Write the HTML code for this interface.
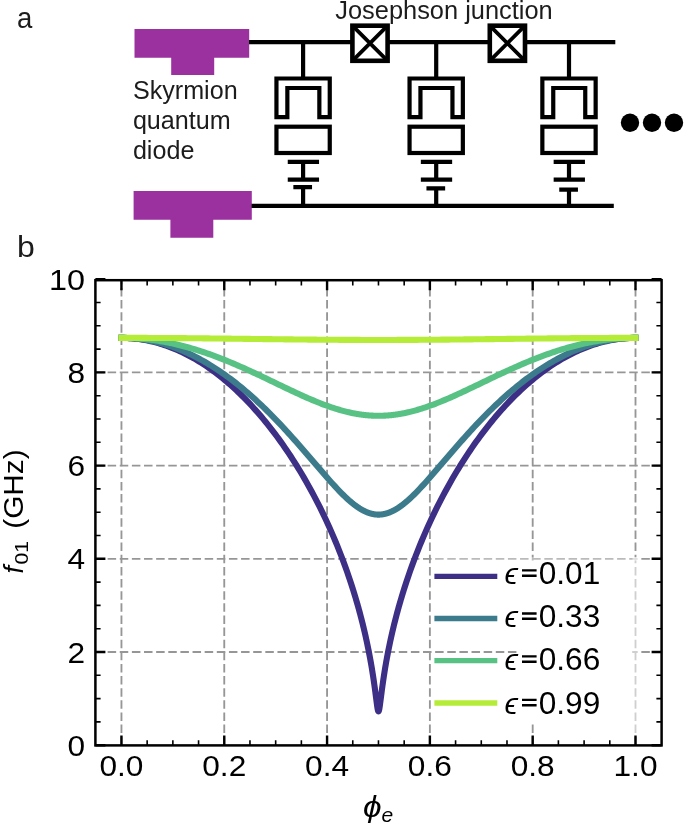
<!DOCTYPE html>
<html><head><meta charset="utf-8"><title>figure</title>
<style>html,body{margin:0;padding:0;background:#fff}svg{display:block;will-change:transform}</style></head>
<body>
<svg width="685" height="826" viewBox="0 0 685 826">
<rect width="685" height="826" fill="#fff"/>
<path d="M134.5 29H249.2V57.7H214.2V75H171.2V57.7H134.5Z" fill="#9b309f"/>
<path d="M133.6 191H251.8V219.8H213.3V237.8H170.4V219.8H133.6Z" fill="#9b309f"/>
<g stroke="#000" stroke-width="4.2" fill="none" stroke-linecap="butt" stroke-linejoin="miter">
<path d="M249 42.1H352 M388 42.1H489.5 M525.5 42.1H615.3"/>
<path d="M251.5 205.8H613.8"/>
<path d="M303.1 42.1V78.5"/>
<path d="M276.45 78.5H329.75V117.2H319.35V88H287.35V117.2H276.45Z"/>
<rect x="276.45" y="126.7" width="53.3" height="26.3"/>
<path d="M287.75 161.9H319.05 M303.1 161.9V179.6 M287.75 179.6H319.05 M293.35 187.1H312.05 M303.1 187.1V205.8"/>
<path d="M436.2 42.1V78.5"/>
<path d="M409.54999999999995 78.5H462.84999999999997V117.2H452.45V88H420.45V117.2H409.54999999999995Z"/>
<rect x="409.54999999999995" y="126.7" width="53.3" height="26.3"/>
<path d="M420.84999999999997 161.9H452.15 M436.2 161.9V179.6 M420.84999999999997 179.6H452.15 M426.45 188.4H445.15 M436.2 188.4V205.8"/>
<path d="M569.0 42.1V78.5"/>
<path d="M542.3499999999999 78.5H595.65V117.2H585.25V88H553.25V117.2H542.3499999999999Z"/>
<rect x="542.3499999999999" y="126.7" width="53.3" height="26.3"/>
<path d="M553.65 161.9H584.95 M569.0 161.9V179.6 M553.65 179.6H584.95 M559.25 189.7H577.95 M569.0 189.7V205.8"/>
<rect x="352.4" y="25.7" width="35.2" height="35.1" stroke-width="4.6"/>
<path d="M352.4 25.7L387.6 60.8 M387.6 25.7L352.4 60.8" stroke-width="3.8"/>
<rect x="489.79999999999995" y="25.7" width="35.2" height="35.1" stroke-width="4.6"/>
<path d="M489.79999999999995 25.7L525.0 60.8 M525.0 25.7L489.79999999999995 60.8" stroke-width="3.8"/>
</g>
<circle cx="630" cy="122.8" r="9.2" fill="#000"/>
<circle cx="652" cy="122.8" r="9.2" fill="#000"/>
<circle cx="674" cy="122.8" r="9.2" fill="#000"/>
<g font-family="Liberation Sans, sans-serif" fill="#1c1c1c" font-size="25.15">
<text x="17.1" y="28" font-size="29.8" textLength="15.3" lengthAdjust="spacingAndGlyphs">a</text>
<text x="17.0" y="257.4" font-size="29.8" textLength="17.8" lengthAdjust="spacingAndGlyphs">b</text>
<text x="335.3" y="19.2" font-size="25.4">Josephson junction</text>
<text x="132.9" y="99.1">Skyrmion</text>
<text x="132.9" y="129.3">quantum</text>
<text x="132.9" y="159.4">diode</text>
</g>
<g stroke="#969696" stroke-width="1.85" stroke-dasharray="8.5 3.63" fill="none">
<path d="M121.45 745.2V280.2"/>
<path d="M224.26 745.2V280.2"/>
<path d="M327.07 745.2V280.2"/>
<path d="M429.88 745.2V280.2"/>
<path d="M532.69 745.2V280.2"/>
<path d="M635.50 745.2V280.2"/>
<path d="M95.5 652.00H661.6"/>
<path d="M95.5 558.80H661.6"/>
<path d="M95.5 465.60H661.6"/>
<path d="M95.5 372.40H661.6"/>
</g>
<polyline points="121.45,337.87 123.39,337.88 125.34,337.93 127.28,338.00 129.23,338.10 131.17,338.24 133.11,338.40 135.06,338.59 137.00,338.81 138.94,339.06 140.89,339.34 142.83,339.64 144.78,339.98 146.72,340.35 148.66,340.74 150.61,341.17 152.55,341.63 154.50,342.11 156.44,342.63 158.38,343.17 160.33,343.74 162.27,344.35 164.22,344.98 166.16,345.65 168.10,346.34 170.05,347.06 171.99,347.82 173.93,348.60 175.88,349.41 177.82,350.26 179.77,351.13 181.71,352.03 183.65,352.97 185.60,353.93 187.54,354.93 189.49,355.96 191.43,357.01 193.37,358.10 195.32,359.22 197.26,360.37 199.21,361.55 201.15,362.76 203.09,364.01 205.04,365.28 206.98,366.59 208.92,367.93 210.87,369.30 212.81,370.70 214.76,372.14 216.70,373.61 218.64,375.11 220.59,376.64 222.53,378.21 224.48,379.81 226.42,381.44 228.36,383.10 230.31,384.80 232.25,386.54 234.20,388.31 236.14,390.11 238.08,391.94 240.03,393.82 241.97,395.72 243.91,397.67 245.86,399.65 247.80,401.66 249.75,403.71 251.69,405.80 253.63,407.93 255.58,410.09 257.52,412.29 259.47,414.53 261.41,416.81 263.35,419.13 265.30,421.49 267.24,423.89 269.19,426.33 271.13,428.81 273.07,431.33 275.02,433.90 276.96,436.51 278.90,439.17 280.85,441.86 282.79,444.61 284.74,447.40 286.68,450.24 288.62,453.13 290.57,456.06 292.51,459.05 294.46,462.09 296.40,465.18 298.34,468.33 300.29,471.53 302.23,474.79 304.18,478.10 306.12,481.48 308.06,484.92 310.01,488.42 311.95,491.99 313.89,495.63 315.84,499.33 317.78,503.11 319.73,506.97 321.67,510.90 323.61,514.92 325.56,519.02 327.50,523.21 329.45,527.50 331.39,531.88 333.33,536.37 335.28,540.97 337.22,545.69 339.17,550.53 341.11,555.50 343.05,560.62 345.00,565.89 346.94,571.32 348.88,576.94 350.83,582.75 352.77,588.77 353.03,589.59 353.29,590.41 353.55,591.24 353.81,592.07 354.06,592.91 354.32,593.75 354.58,594.59 354.84,595.44 355.10,596.30 355.36,597.16 355.61,598.02 355.87,598.89 356.13,599.76 356.39,600.64 356.65,601.53 356.91,602.42 357.16,603.31 357.42,604.21 357.68,605.12 357.94,606.03 358.20,606.95 358.46,607.87 358.71,608.80 358.97,609.74 359.23,610.68 359.49,611.63 359.75,612.58 360.01,613.54 360.26,614.51 360.52,615.49 360.78,616.47 361.04,617.46 361.30,618.46 361.56,619.46 361.81,620.47 362.07,621.49 362.33,622.52 362.59,623.55 362.85,624.60 363.11,625.65 363.36,626.71 363.62,627.78 363.88,628.86 364.14,629.95 364.40,631.05 364.66,632.15 364.91,633.27 365.17,634.40 365.43,635.54 365.69,636.69 365.95,637.85 366.20,639.02 366.46,640.21 366.72,641.40 366.98,642.61 367.24,643.83 367.50,645.07 367.75,646.32 368.01,647.58 368.27,648.86 368.53,650.15 368.79,651.46 369.05,652.79 369.30,654.13 369.56,655.49 369.82,656.87 370.08,658.26 370.34,659.68 370.60,661.11 370.85,662.57 371.11,664.05 371.37,665.55 371.63,667.07 371.89,668.62 372.15,670.19 372.40,671.79 372.66,673.41 372.92,675.07 373.18,676.75 373.44,678.47 373.70,680.21 373.95,681.99 374.21,683.81 374.47,685.65 374.73,687.53 374.99,689.44 375.25,691.39 375.50,693.37 375.76,695.37 376.02,697.38 376.28,699.41 376.54,701.42 376.80,703.40 377.05,705.31 377.31,707.09 377.57,708.68 377.83,710.00 378.09,710.95 378.35,711.45 378.60,711.45 378.86,710.95 379.12,710.00 379.38,708.68 379.64,707.09 379.90,705.31 380.15,703.40 380.41,701.42 380.67,699.41 380.93,697.38 381.19,695.37 381.45,693.37 381.70,691.39 381.96,689.44 382.22,687.53 382.48,685.65 382.74,683.81 383.00,681.99 383.25,680.21 383.51,678.47 383.77,676.75 384.03,675.07 384.29,673.41 384.55,671.79 384.80,670.19 385.06,668.62 385.32,667.07 385.58,665.55 385.84,664.05 386.10,662.57 386.35,661.11 386.61,659.68 386.87,658.26 387.13,656.87 387.39,655.49 387.65,654.13 387.90,652.79 388.16,651.46 388.42,650.15 388.68,648.86 388.94,647.58 389.20,646.32 389.45,645.07 389.71,643.83 389.97,642.61 390.23,641.40 390.49,640.21 390.75,639.02 391.00,637.85 391.26,636.69 391.52,635.54 391.78,634.40 392.04,633.27 392.29,632.15 392.55,631.05 392.81,629.95 393.07,628.86 393.33,627.78 393.59,626.71 393.84,625.65 394.10,624.60 394.36,623.55 394.62,622.52 394.88,621.49 395.14,620.47 395.39,619.46 395.65,618.46 395.91,617.46 396.17,616.47 396.43,615.49 396.69,614.51 396.94,613.54 397.20,612.58 397.46,611.63 397.72,610.68 397.98,609.74 398.24,608.80 398.49,607.87 398.75,606.95 399.01,606.03 399.27,605.12 399.53,604.21 399.79,603.31 400.04,602.42 400.30,601.53 400.56,600.64 400.82,599.76 401.08,598.89 401.34,598.02 401.59,597.16 401.85,596.30 402.11,595.44 402.37,594.59 402.63,593.75 402.89,592.91 403.14,592.07 403.40,591.24 403.66,590.41 403.92,589.59 404.18,588.77 406.12,582.75 408.07,576.94 410.01,571.32 411.95,565.89 413.90,560.62 415.84,555.50 417.78,550.53 419.73,545.69 421.67,540.97 423.62,536.37 425.56,531.88 427.50,527.50 429.45,523.21 431.39,519.02 433.34,514.92 435.28,510.90 437.22,506.97 439.17,503.11 441.11,499.33 443.06,495.63 445.00,491.99 446.94,488.42 448.89,484.92 450.83,481.48 452.77,478.10 454.72,474.79 456.66,471.53 458.61,468.33 460.55,465.18 462.49,462.09 464.44,459.05 466.38,456.06 468.33,453.13 470.27,450.24 472.21,447.40 474.16,444.61 476.10,441.86 478.05,439.17 479.99,436.51 481.93,433.90 483.88,431.33 485.82,428.81 487.76,426.33 489.71,423.89 491.65,421.49 493.60,419.13 495.54,416.81 497.48,414.53 499.43,412.29 501.37,410.09 503.32,407.93 505.26,405.80 507.20,403.71 509.15,401.66 511.09,399.65 513.04,397.67 514.98,395.72 516.92,393.82 518.87,391.94 520.81,390.11 522.75,388.31 524.70,386.54 526.64,384.80 528.59,383.10 530.53,381.44 532.47,379.81 534.42,378.21 536.36,376.64 538.31,375.11 540.25,373.61 542.19,372.14 544.14,370.70 546.08,369.30 548.03,367.93 549.97,366.59 551.91,365.28 553.86,364.01 555.80,362.76 557.74,361.55 559.69,360.37 561.63,359.22 563.58,358.10 565.52,357.01 567.46,355.96 569.41,354.93 571.35,353.93 573.30,352.97 575.24,352.03 577.18,351.13 579.13,350.26 581.07,349.41 583.02,348.60 584.96,347.82 586.90,347.06 588.85,346.34 590.79,345.65 592.73,344.98 594.68,344.35 596.62,343.74 598.57,343.17 600.51,342.63 602.45,342.11 604.40,341.63 606.34,341.17 608.29,340.74 610.23,340.35 612.17,339.98 614.12,339.64 616.06,339.34 618.01,339.06 619.95,338.81 621.89,338.59 623.84,338.40 625.78,338.24 627.72,338.10 629.67,338.00 631.61,337.93 633.56,337.88 635.50,337.87" fill="none" stroke="#3d2f85" stroke-width="6.1" stroke-linejoin="round" stroke-linecap="square"/>
<polyline points="121.45,337.87 123.39,337.88 125.34,337.92 127.28,337.99 129.23,338.08 131.17,338.20 133.11,338.34 135.06,338.51 137.00,338.71 138.94,338.93 140.89,339.18 142.83,339.45 144.78,339.75 146.72,340.08 148.66,340.43 150.61,340.81 152.55,341.21 154.50,341.64 156.44,342.10 158.38,342.58 160.33,343.09 162.27,343.63 164.22,344.19 166.16,344.78 168.10,345.39 170.05,346.03 171.99,346.70 173.93,347.39 175.88,348.11 177.82,348.85 179.77,349.62 181.71,350.42 183.65,351.24 185.60,352.09 187.54,352.97 189.49,353.87 191.43,354.79 193.37,355.75 195.32,356.73 197.26,357.73 199.21,358.76 201.15,359.82 203.09,360.90 205.04,362.01 206.98,363.15 208.92,364.31 210.87,365.49 212.81,366.71 214.76,367.95 216.70,369.21 218.64,370.50 220.59,371.82 222.53,373.16 224.48,374.53 226.42,375.92 228.36,377.34 230.31,378.78 232.25,380.25 234.20,381.75 236.14,383.27 238.08,384.82 240.03,386.39 241.97,387.98 243.91,389.61 245.86,391.25 247.80,392.92 249.75,394.62 251.69,396.34 253.63,398.08 255.58,399.85 257.52,401.65 259.47,403.46 261.41,405.30 263.35,407.17 265.30,409.05 267.24,410.96 269.19,412.90 271.13,414.85 273.07,416.83 275.02,418.82 276.96,420.84 278.90,422.88 280.85,424.94 282.79,427.02 284.74,429.12 286.68,431.24 288.62,433.37 290.57,435.52 292.51,437.69 294.46,439.87 296.40,442.07 298.34,444.28 300.29,446.51 302.23,448.74 304.18,450.99 306.12,453.24 308.06,455.50 310.01,457.77 311.95,460.04 313.89,462.31 315.84,464.58 317.78,466.85 319.73,469.11 321.67,471.36 323.61,473.61 325.56,475.84 327.50,478.06 329.45,480.25 331.39,482.42 333.33,484.57 335.28,486.68 337.22,488.76 339.17,490.80 341.11,492.79 343.05,494.73 345.00,496.61 346.94,498.43 348.88,500.19 350.83,501.87 352.77,503.48 353.03,503.68 353.29,503.89 353.55,504.09 353.81,504.30 354.06,504.50 354.32,504.70 354.58,504.89 354.84,505.09 355.10,505.28 355.36,505.48 355.61,505.67 355.87,505.86 356.13,506.04 356.39,506.23 356.65,506.42 356.91,506.60 357.16,506.78 357.42,506.96 357.68,507.14 357.94,507.31 358.20,507.49 358.46,507.66 358.71,507.83 358.97,508.00 359.23,508.16 359.49,508.33 359.75,508.49 360.01,508.65 360.26,508.81 360.52,508.97 360.78,509.12 361.04,509.28 361.30,509.43 361.56,509.58 361.81,509.73 362.07,509.87 362.33,510.02 362.59,510.16 362.85,510.30 363.11,510.43 363.36,510.57 363.62,510.70 363.88,510.84 364.14,510.96 364.40,511.09 364.66,511.22 364.91,511.34 365.17,511.46 365.43,511.58 365.69,511.70 365.95,511.81 366.20,511.92 366.46,512.03 366.72,512.14 366.98,512.25 367.24,512.35 367.50,512.45 367.75,512.55 368.01,512.65 368.27,512.74 368.53,512.84 368.79,512.93 369.05,513.01 369.30,513.10 369.56,513.18 369.82,513.26 370.08,513.34 370.34,513.42 370.60,513.49 370.85,513.57 371.11,513.64 371.37,513.70 371.63,513.77 371.89,513.83 372.15,513.89 372.40,513.95 372.66,514.00 372.92,514.06 373.18,514.11 373.44,514.16 373.70,514.20 373.95,514.25 374.21,514.29 374.47,514.33 374.73,514.36 374.99,514.40 375.25,514.43 375.50,514.46 375.76,514.48 376.02,514.51 376.28,514.53 376.54,514.55 376.80,514.57 377.05,514.58 377.31,514.59 377.57,514.60 377.83,514.61 378.09,514.61 378.35,514.62 378.60,514.62 378.86,514.61 379.12,514.61 379.38,514.60 379.64,514.59 379.90,514.58 380.15,514.57 380.41,514.55 380.67,514.53 380.93,514.51 381.19,514.48 381.45,514.46 381.70,514.43 381.96,514.40 382.22,514.36 382.48,514.33 382.74,514.29 383.00,514.25 383.25,514.20 383.51,514.16 383.77,514.11 384.03,514.06 384.29,514.00 384.55,513.95 384.80,513.89 385.06,513.83 385.32,513.77 385.58,513.70 385.84,513.64 386.10,513.57 386.35,513.49 386.61,513.42 386.87,513.34 387.13,513.26 387.39,513.18 387.65,513.10 387.90,513.01 388.16,512.93 388.42,512.84 388.68,512.74 388.94,512.65 389.20,512.55 389.45,512.45 389.71,512.35 389.97,512.25 390.23,512.14 390.49,512.03 390.75,511.92 391.00,511.81 391.26,511.70 391.52,511.58 391.78,511.46 392.04,511.34 392.29,511.22 392.55,511.09 392.81,510.96 393.07,510.84 393.33,510.70 393.59,510.57 393.84,510.43 394.10,510.30 394.36,510.16 394.62,510.02 394.88,509.87 395.14,509.73 395.39,509.58 395.65,509.43 395.91,509.28 396.17,509.12 396.43,508.97 396.69,508.81 396.94,508.65 397.20,508.49 397.46,508.33 397.72,508.16 397.98,508.00 398.24,507.83 398.49,507.66 398.75,507.49 399.01,507.31 399.27,507.14 399.53,506.96 399.79,506.78 400.04,506.60 400.30,506.42 400.56,506.23 400.82,506.04 401.08,505.86 401.34,505.67 401.59,505.48 401.85,505.28 402.11,505.09 402.37,504.89 402.63,504.70 402.89,504.50 403.14,504.30 403.40,504.09 403.66,503.89 403.92,503.68 404.18,503.48 406.12,501.87 408.07,500.19 410.01,498.43 411.95,496.61 413.90,494.73 415.84,492.79 417.78,490.80 419.73,488.76 421.67,486.68 423.62,484.57 425.56,482.42 427.50,480.25 429.45,478.06 431.39,475.84 433.34,473.61 435.28,471.36 437.22,469.11 439.17,466.85 441.11,464.58 443.06,462.31 445.00,460.04 446.94,457.77 448.89,455.50 450.83,453.24 452.77,450.99 454.72,448.74 456.66,446.51 458.61,444.28 460.55,442.07 462.49,439.87 464.44,437.69 466.38,435.52 468.33,433.37 470.27,431.24 472.21,429.12 474.16,427.02 476.10,424.94 478.05,422.88 479.99,420.84 481.93,418.82 483.88,416.83 485.82,414.85 487.76,412.90 489.71,410.96 491.65,409.05 493.60,407.17 495.54,405.30 497.48,403.46 499.43,401.65 501.37,399.85 503.32,398.08 505.26,396.34 507.20,394.62 509.15,392.92 511.09,391.25 513.04,389.61 514.98,387.98 516.92,386.39 518.87,384.82 520.81,383.27 522.75,381.75 524.70,380.25 526.64,378.78 528.59,377.34 530.53,375.92 532.47,374.53 534.42,373.16 536.36,371.82 538.31,370.50 540.25,369.21 542.19,367.95 544.14,366.71 546.08,365.49 548.03,364.31 549.97,363.15 551.91,362.01 553.86,360.90 555.80,359.82 557.74,358.76 559.69,357.73 561.63,356.73 563.58,355.75 565.52,354.79 567.46,353.87 569.41,352.97 571.35,352.09 573.30,351.24 575.24,350.42 577.18,349.62 579.13,348.85 581.07,348.11 583.02,347.39 584.96,346.70 586.90,346.03 588.85,345.39 590.79,344.78 592.73,344.19 594.68,343.63 596.62,343.09 598.57,342.58 600.51,342.10 602.45,341.64 604.40,341.21 606.34,340.81 608.29,340.43 610.23,340.08 612.17,339.75 614.12,339.45 616.06,339.18 618.01,338.93 619.95,338.71 621.89,338.51 623.84,338.34 625.78,338.20 627.72,338.08 629.67,337.99 631.61,337.92 633.56,337.88 635.50,337.87" fill="none" stroke="#3b7b8b" stroke-width="6.1" stroke-linejoin="round" stroke-linecap="square"/>
<polyline points="121.45,337.87 123.39,337.88 125.34,337.90 127.28,337.94 129.23,338.00 131.17,338.08 133.11,338.17 135.06,338.27 137.00,338.40 138.94,338.54 140.89,338.70 142.83,338.87 144.78,339.06 146.72,339.26 148.66,339.49 150.61,339.72 152.55,339.98 154.50,340.25 156.44,340.53 158.38,340.84 160.33,341.15 162.27,341.49 164.22,341.84 166.16,342.20 168.10,342.59 170.05,342.98 171.99,343.39 173.93,343.82 175.88,344.26 177.82,344.72 179.77,345.20 181.71,345.68 183.65,346.19 185.60,346.70 187.54,347.23 189.49,347.78 191.43,348.34 193.37,348.91 195.32,349.50 197.26,350.11 199.21,350.72 201.15,351.35 203.09,351.99 205.04,352.65 206.98,353.32 208.92,354.00 210.87,354.69 212.81,355.40 214.76,356.12 216.70,356.85 218.64,357.59 220.59,358.34 222.53,359.10 224.48,359.88 226.42,360.66 228.36,361.46 230.31,362.27 232.25,363.08 234.20,363.91 236.14,364.74 238.08,365.59 240.03,366.44 241.97,367.30 243.91,368.16 245.86,369.04 247.80,369.92 249.75,370.81 251.69,371.71 253.63,372.61 255.58,373.51 257.52,374.42 259.47,375.34 261.41,376.26 263.35,377.19 265.30,378.11 267.24,379.04 269.19,379.97 271.13,380.91 273.07,381.84 275.02,382.78 276.96,383.71 278.90,384.65 280.85,385.58 282.79,386.52 284.74,387.45 286.68,388.37 288.62,389.30 290.57,390.22 292.51,391.13 294.46,392.04 296.40,392.94 298.34,393.84 300.29,394.73 302.23,395.61 304.18,396.48 306.12,397.34 308.06,398.19 310.01,399.03 311.95,399.86 313.89,400.67 315.84,401.47 317.78,402.26 319.73,403.03 321.67,403.79 323.61,404.53 325.56,405.25 327.50,405.96 329.45,406.64 331.39,407.31 333.33,407.95 335.28,408.58 337.22,409.18 339.17,409.76 341.11,410.32 343.05,410.85 345.00,411.36 346.94,411.85 348.88,412.31 350.83,412.74 352.77,413.14 353.03,413.19 353.29,413.25 353.55,413.30 353.81,413.35 354.06,413.40 354.32,413.45 354.58,413.50 354.84,413.54 355.10,413.59 355.36,413.64 355.61,413.69 355.87,413.73 356.13,413.78 356.39,413.82 356.65,413.87 356.91,413.91 357.16,413.96 357.42,414.00 357.68,414.04 357.94,414.09 358.20,414.13 358.46,414.17 358.71,414.21 358.97,414.25 359.23,414.29 359.49,414.33 359.75,414.37 360.01,414.41 360.26,414.45 360.52,414.48 360.78,414.52 361.04,414.56 361.30,414.59 361.56,414.63 361.81,414.66 362.07,414.70 362.33,414.73 362.59,414.76 362.85,414.80 363.11,414.83 363.36,414.86 363.62,414.89 363.88,414.92 364.14,414.95 364.40,414.98 364.66,415.01 364.91,415.04 365.17,415.07 365.43,415.10 365.69,415.12 365.95,415.15 366.20,415.17 366.46,415.20 366.72,415.23 366.98,415.25 367.24,415.27 367.50,415.30 367.75,415.32 368.01,415.34 368.27,415.36 368.53,415.38 368.79,415.40 369.05,415.42 369.30,415.44 369.56,415.46 369.82,415.48 370.08,415.50 370.34,415.52 370.60,415.53 370.85,415.55 371.11,415.57 371.37,415.58 371.63,415.60 371.89,415.61 372.15,415.62 372.40,415.64 372.66,415.65 372.92,415.66 373.18,415.67 373.44,415.68 373.70,415.69 373.95,415.70 374.21,415.71 374.47,415.72 374.73,415.73 374.99,415.74 375.25,415.74 375.50,415.75 375.76,415.76 376.02,415.76 376.28,415.77 376.54,415.77 376.80,415.78 377.05,415.78 377.31,415.78 377.57,415.78 377.83,415.78 378.09,415.79 378.35,415.79 378.60,415.79 378.86,415.79 379.12,415.78 379.38,415.78 379.64,415.78 379.90,415.78 380.15,415.78 380.41,415.77 380.67,415.77 380.93,415.76 381.19,415.76 381.45,415.75 381.70,415.74 381.96,415.74 382.22,415.73 382.48,415.72 382.74,415.71 383.00,415.70 383.25,415.69 383.51,415.68 383.77,415.67 384.03,415.66 384.29,415.65 384.55,415.64 384.80,415.62 385.06,415.61 385.32,415.60 385.58,415.58 385.84,415.57 386.10,415.55 386.35,415.53 386.61,415.52 386.87,415.50 387.13,415.48 387.39,415.46 387.65,415.44 387.90,415.42 388.16,415.40 388.42,415.38 388.68,415.36 388.94,415.34 389.20,415.32 389.45,415.30 389.71,415.27 389.97,415.25 390.23,415.23 390.49,415.20 390.75,415.17 391.00,415.15 391.26,415.12 391.52,415.10 391.78,415.07 392.04,415.04 392.29,415.01 392.55,414.98 392.81,414.95 393.07,414.92 393.33,414.89 393.59,414.86 393.84,414.83 394.10,414.80 394.36,414.76 394.62,414.73 394.88,414.70 395.14,414.66 395.39,414.63 395.65,414.59 395.91,414.56 396.17,414.52 396.43,414.48 396.69,414.45 396.94,414.41 397.20,414.37 397.46,414.33 397.72,414.29 397.98,414.25 398.24,414.21 398.49,414.17 398.75,414.13 399.01,414.09 399.27,414.04 399.53,414.00 399.79,413.96 400.04,413.91 400.30,413.87 400.56,413.82 400.82,413.78 401.08,413.73 401.34,413.69 401.59,413.64 401.85,413.59 402.11,413.54 402.37,413.50 402.63,413.45 402.89,413.40 403.14,413.35 403.40,413.30 403.66,413.25 403.92,413.19 404.18,413.14 406.12,412.74 408.07,412.31 410.01,411.85 411.95,411.36 413.90,410.85 415.84,410.32 417.78,409.76 419.73,409.18 421.67,408.58 423.62,407.95 425.56,407.31 427.50,406.64 429.45,405.96 431.39,405.25 433.34,404.53 435.28,403.79 437.22,403.03 439.17,402.26 441.11,401.47 443.06,400.67 445.00,399.86 446.94,399.03 448.89,398.19 450.83,397.34 452.77,396.48 454.72,395.61 456.66,394.73 458.61,393.84 460.55,392.94 462.49,392.04 464.44,391.13 466.38,390.22 468.33,389.30 470.27,388.37 472.21,387.45 474.16,386.52 476.10,385.58 478.05,384.65 479.99,383.71 481.93,382.78 483.88,381.84 485.82,380.91 487.76,379.97 489.71,379.04 491.65,378.11 493.60,377.19 495.54,376.26 497.48,375.34 499.43,374.42 501.37,373.51 503.32,372.61 505.26,371.71 507.20,370.81 509.15,369.92 511.09,369.04 513.04,368.16 514.98,367.30 516.92,366.44 518.87,365.59 520.81,364.74 522.75,363.91 524.70,363.08 526.64,362.27 528.59,361.46 530.53,360.66 532.47,359.88 534.42,359.10 536.36,358.34 538.31,357.59 540.25,356.85 542.19,356.12 544.14,355.40 546.08,354.69 548.03,354.00 549.97,353.32 551.91,352.65 553.86,351.99 555.80,351.35 557.74,350.72 559.69,350.11 561.63,349.50 563.58,348.91 565.52,348.34 567.46,347.78 569.41,347.23 571.35,346.70 573.30,346.19 575.24,345.68 577.18,345.20 579.13,344.72 581.07,344.26 583.02,343.82 584.96,343.39 586.90,342.98 588.85,342.59 590.79,342.20 592.73,341.84 594.68,341.49 596.62,341.15 598.57,340.84 600.51,340.53 602.45,340.25 604.40,339.98 606.34,339.72 608.29,339.49 610.23,339.26 612.17,339.06 614.12,338.87 616.06,338.70 618.01,338.54 619.95,338.40 621.89,338.27 623.84,338.17 625.78,338.08 627.72,338.00 629.67,337.94 631.61,337.90 633.56,337.88 635.50,337.87" fill="none" stroke="#57c283" stroke-width="6.1" stroke-linejoin="round" stroke-linecap="square"/>
<polyline points="121.45,337.87 123.39,337.87 125.34,337.87 127.28,337.87 129.23,337.87 131.17,337.88 133.11,337.88 135.06,337.88 137.00,337.89 138.94,337.89 140.89,337.90 142.83,337.90 144.78,337.91 146.72,337.92 148.66,337.93 150.61,337.93 152.55,337.94 154.50,337.95 156.44,337.96 158.38,337.97 160.33,337.98 162.27,338.00 164.22,338.01 166.16,338.02 168.10,338.03 170.05,338.05 171.99,338.06 173.93,338.07 175.88,338.09 177.82,338.11 179.77,338.12 181.71,338.14 183.65,338.15 185.60,338.17 187.54,338.19 189.49,338.21 191.43,338.23 193.37,338.24 195.32,338.26 197.26,338.28 199.21,338.30 201.15,338.32 203.09,338.34 205.04,338.36 206.98,338.39 208.92,338.41 210.87,338.43 212.81,338.45 214.76,338.47 216.70,338.50 218.64,338.52 220.59,338.54 222.53,338.56 224.48,338.59 226.42,338.61 228.36,338.64 230.31,338.66 232.25,338.68 234.20,338.71 236.14,338.73 238.08,338.76 240.03,338.78 241.97,338.80 243.91,338.83 245.86,338.85 247.80,338.88 249.75,338.90 251.69,338.93 253.63,338.95 255.58,338.98 257.52,339.00 259.47,339.03 261.41,339.05 263.35,339.08 265.30,339.10 267.24,339.12 269.19,339.15 271.13,339.17 273.07,339.20 275.02,339.22 276.96,339.24 278.90,339.27 280.85,339.29 282.79,339.31 284.74,339.34 286.68,339.36 288.62,339.38 290.57,339.40 292.51,339.42 294.46,339.45 296.40,339.47 298.34,339.49 300.29,339.51 302.23,339.53 304.18,339.55 306.12,339.57 308.06,339.59 310.01,339.61 311.95,339.62 313.89,339.64 315.84,339.66 317.78,339.68 319.73,339.69 321.67,339.71 323.61,339.72 325.56,339.74 327.50,339.75 329.45,339.77 331.39,339.78 333.33,339.80 335.28,339.81 337.22,339.82 339.17,339.83 341.11,339.84 343.05,339.85 345.00,339.86 346.94,339.87 348.88,339.88 350.83,339.89 352.77,339.90 353.03,339.90 353.29,339.90 353.55,339.90 353.81,339.90 354.06,339.91 354.32,339.91 354.58,339.91 354.84,339.91 355.10,339.91 355.36,339.91 355.61,339.91 355.87,339.91 356.13,339.91 356.39,339.91 356.65,339.91 356.91,339.92 357.16,339.92 357.42,339.92 357.68,339.92 357.94,339.92 358.20,339.92 358.46,339.92 358.71,339.92 358.97,339.92 359.23,339.92 359.49,339.92 359.75,339.92 360.01,339.92 360.26,339.93 360.52,339.93 360.78,339.93 361.04,339.93 361.30,339.93 361.56,339.93 361.81,339.93 362.07,339.93 362.33,339.93 362.59,339.93 362.85,339.93 363.11,339.93 363.36,339.93 363.62,339.93 363.88,339.93 364.14,339.94 364.40,339.94 364.66,339.94 364.91,339.94 365.17,339.94 365.43,339.94 365.69,339.94 365.95,339.94 366.20,339.94 366.46,339.94 366.72,339.94 366.98,339.94 367.24,339.94 367.50,339.94 367.75,339.94 368.01,339.94 368.27,339.94 368.53,339.94 368.79,339.94 369.05,339.94 369.30,339.94 369.56,339.95 369.82,339.95 370.08,339.95 370.34,339.95 370.60,339.95 370.85,339.95 371.11,339.95 371.37,339.95 371.63,339.95 371.89,339.95 372.15,339.95 372.40,339.95 372.66,339.95 372.92,339.95 373.18,339.95 373.44,339.95 373.70,339.95 373.95,339.95 374.21,339.95 374.47,339.95 374.73,339.95 374.99,339.95 375.25,339.95 375.50,339.95 375.76,339.95 376.02,339.95 376.28,339.95 376.54,339.95 376.80,339.95 377.05,339.95 377.31,339.95 377.57,339.95 377.83,339.95 378.09,339.95 378.35,339.95 378.60,339.95 378.86,339.95 379.12,339.95 379.38,339.95 379.64,339.95 379.90,339.95 380.15,339.95 380.41,339.95 380.67,339.95 380.93,339.95 381.19,339.95 381.45,339.95 381.70,339.95 381.96,339.95 382.22,339.95 382.48,339.95 382.74,339.95 383.00,339.95 383.25,339.95 383.51,339.95 383.77,339.95 384.03,339.95 384.29,339.95 384.55,339.95 384.80,339.95 385.06,339.95 385.32,339.95 385.58,339.95 385.84,339.95 386.10,339.95 386.35,339.95 386.61,339.95 386.87,339.95 387.13,339.95 387.39,339.95 387.65,339.94 387.90,339.94 388.16,339.94 388.42,339.94 388.68,339.94 388.94,339.94 389.20,339.94 389.45,339.94 389.71,339.94 389.97,339.94 390.23,339.94 390.49,339.94 390.75,339.94 391.00,339.94 391.26,339.94 391.52,339.94 391.78,339.94 392.04,339.94 392.29,339.94 392.55,339.94 392.81,339.94 393.07,339.93 393.33,339.93 393.59,339.93 393.84,339.93 394.10,339.93 394.36,339.93 394.62,339.93 394.88,339.93 395.14,339.93 395.39,339.93 395.65,339.93 395.91,339.93 396.17,339.93 396.43,339.93 396.69,339.93 396.94,339.92 397.20,339.92 397.46,339.92 397.72,339.92 397.98,339.92 398.24,339.92 398.49,339.92 398.75,339.92 399.01,339.92 399.27,339.92 399.53,339.92 399.79,339.92 400.04,339.92 400.30,339.91 400.56,339.91 400.82,339.91 401.08,339.91 401.34,339.91 401.59,339.91 401.85,339.91 402.11,339.91 402.37,339.91 402.63,339.91 402.89,339.91 403.14,339.90 403.40,339.90 403.66,339.90 403.92,339.90 404.18,339.90 406.12,339.89 408.07,339.88 410.01,339.87 411.95,339.86 413.90,339.85 415.84,339.84 417.78,339.83 419.73,339.82 421.67,339.81 423.62,339.80 425.56,339.78 427.50,339.77 429.45,339.75 431.39,339.74 433.34,339.72 435.28,339.71 437.22,339.69 439.17,339.68 441.11,339.66 443.06,339.64 445.00,339.62 446.94,339.61 448.89,339.59 450.83,339.57 452.77,339.55 454.72,339.53 456.66,339.51 458.61,339.49 460.55,339.47 462.49,339.45 464.44,339.42 466.38,339.40 468.33,339.38 470.27,339.36 472.21,339.34 474.16,339.31 476.10,339.29 478.05,339.27 479.99,339.24 481.93,339.22 483.88,339.20 485.82,339.17 487.76,339.15 489.71,339.12 491.65,339.10 493.60,339.08 495.54,339.05 497.48,339.03 499.43,339.00 501.37,338.98 503.32,338.95 505.26,338.93 507.20,338.90 509.15,338.88 511.09,338.85 513.04,338.83 514.98,338.80 516.92,338.78 518.87,338.76 520.81,338.73 522.75,338.71 524.70,338.68 526.64,338.66 528.59,338.64 530.53,338.61 532.47,338.59 534.42,338.56 536.36,338.54 538.31,338.52 540.25,338.50 542.19,338.47 544.14,338.45 546.08,338.43 548.03,338.41 549.97,338.39 551.91,338.36 553.86,338.34 555.80,338.32 557.74,338.30 559.69,338.28 561.63,338.26 563.58,338.24 565.52,338.23 567.46,338.21 569.41,338.19 571.35,338.17 573.30,338.15 575.24,338.14 577.18,338.12 579.13,338.11 581.07,338.09 583.02,338.07 584.96,338.06 586.90,338.05 588.85,338.03 590.79,338.02 592.73,338.01 594.68,338.00 596.62,337.98 598.57,337.97 600.51,337.96 602.45,337.95 604.40,337.94 606.34,337.93 608.29,337.93 610.23,337.92 612.17,337.91 614.12,337.90 616.06,337.90 618.01,337.89 619.95,337.89 621.89,337.88 623.84,337.88 625.78,337.88 627.72,337.87 629.67,337.87 631.61,337.87 633.56,337.87 635.50,337.87" fill="none" stroke="#b5ec38" stroke-width="6.1" stroke-linejoin="round" stroke-linecap="square"/>
<rect x="517" y="560.5" width="115.5" height="161.5" fill="#fff"/>
<rect x="632.5" y="557" width="7.5" height="180" fill="#fff" fill-opacity="0.55"/>
<rect x="432" y="557" width="208" height="4" fill="#fff" fill-opacity="0.35"/>
<path d="M434.4 576.4H497.3" stroke="#3d2f85" stroke-width="5.3"/>
<text x="504.4" y="584.2" font-family="Liberation Sans, sans-serif" font-size="30.4" font-style="italic" fill="#000">&#x3f5;</text>
<path d="M522 570.4H536.6 M522 575.7H536.6" stroke="#000" stroke-width="2.4"/>
<text x="538.76" y="584.0" font-family="Liberation Sans, sans-serif" font-size="31.2" fill="#000" textLength="61.54" lengthAdjust="spacingAndGlyphs">0.01</text>
<path d="M434.4 618.5H497.3" stroke="#3b7b8b" stroke-width="5.3"/>
<text x="504.4" y="627.3" font-family="Liberation Sans, sans-serif" font-size="30.4" font-style="italic" fill="#000">&#x3f5;</text>
<path d="M522 613.5H536.6 M522 618.8H536.6" stroke="#000" stroke-width="2.4"/>
<text x="538.76" y="627.1" font-family="Liberation Sans, sans-serif" font-size="31.2" fill="#000" textLength="61.54" lengthAdjust="spacingAndGlyphs">0.33</text>
<path d="M434.4 660.6H497.3" stroke="#57c283" stroke-width="5.3"/>
<text x="504.4" y="670.2" font-family="Liberation Sans, sans-serif" font-size="30.4" font-style="italic" fill="#000">&#x3f5;</text>
<path d="M522 656.4H536.6 M522 661.7H536.6" stroke="#000" stroke-width="2.4"/>
<text x="538.76" y="670.0" font-family="Liberation Sans, sans-serif" font-size="31.2" fill="#000" textLength="61.54" lengthAdjust="spacingAndGlyphs">0.66</text>
<path d="M434.4 703.0H497.3" stroke="#b5ec38" stroke-width="5.3"/>
<text x="504.4" y="713.7" font-family="Liberation Sans, sans-serif" font-size="30.4" font-style="italic" fill="#000">&#x3f5;</text>
<path d="M522 699.9H536.6 M522 705.2H536.6" stroke="#000" stroke-width="2.4"/>
<text x="538.76" y="713.5" font-family="Liberation Sans, sans-serif" font-size="31.2" fill="#000" textLength="61.54" lengthAdjust="spacingAndGlyphs">0.99</text>
<g stroke="#000" fill="none">
<path d="M121.45 745.4v-10 M121.45 280.2v10" stroke-width="2.4"/>
<path d="M147.15 745.4v-5.2 M147.15 280.2v5.2" stroke-width="1.6"/>
<path d="M172.86 745.4v-5.2 M172.86 280.2v5.2" stroke-width="1.6"/>
<path d="M198.56 745.4v-5.2 M198.56 280.2v5.2" stroke-width="1.6"/>
<path d="M224.26 745.4v-10 M224.26 280.2v10" stroke-width="2.4"/>
<path d="M249.96 745.4v-5.2 M249.96 280.2v5.2" stroke-width="1.6"/>
<path d="M275.67 745.4v-5.2 M275.67 280.2v5.2" stroke-width="1.6"/>
<path d="M301.37 745.4v-5.2 M301.37 280.2v5.2" stroke-width="1.6"/>
<path d="M327.07 745.4v-10 M327.07 280.2v10" stroke-width="2.4"/>
<path d="M352.77 745.4v-5.2 M352.77 280.2v5.2" stroke-width="1.6"/>
<path d="M378.47 745.4v-5.2 M378.47 280.2v5.2" stroke-width="1.6"/>
<path d="M404.18 745.4v-5.2 M404.18 280.2v5.2" stroke-width="1.6"/>
<path d="M429.88 745.4v-10 M429.88 280.2v10" stroke-width="2.4"/>
<path d="M455.58 745.4v-5.2 M455.58 280.2v5.2" stroke-width="1.6"/>
<path d="M481.28 745.4v-5.2 M481.28 280.2v5.2" stroke-width="1.6"/>
<path d="M506.99 745.4v-5.2 M506.99 280.2v5.2" stroke-width="1.6"/>
<path d="M532.69 745.4v-10 M532.69 280.2v10" stroke-width="2.4"/>
<path d="M558.39 745.4v-5.2 M558.39 280.2v5.2" stroke-width="1.6"/>
<path d="M584.10 745.4v-5.2 M584.10 280.2v5.2" stroke-width="1.6"/>
<path d="M609.80 745.4v-5.2 M609.80 280.2v5.2" stroke-width="1.6"/>
<path d="M635.50 745.4v-10 M635.50 280.2v10" stroke-width="2.4"/>
<path d="M95.4 745.20h10 M661.6 745.20h-10" stroke-width="2.4"/>
<path d="M95.4 721.90h5.2 M661.6 721.90h-5.2" stroke-width="1.6"/>
<path d="M95.4 698.60h5.2 M661.6 698.60h-5.2" stroke-width="1.6"/>
<path d="M95.4 675.30h5.2 M661.6 675.30h-5.2" stroke-width="1.6"/>
<path d="M95.4 652.00h10 M661.6 652.00h-10" stroke-width="2.4"/>
<path d="M95.4 628.70h5.2 M661.6 628.70h-5.2" stroke-width="1.6"/>
<path d="M95.4 605.40h5.2 M661.6 605.40h-5.2" stroke-width="1.6"/>
<path d="M95.4 582.10h5.2 M661.6 582.10h-5.2" stroke-width="1.6"/>
<path d="M95.4 558.80h10 M661.6 558.80h-10" stroke-width="2.4"/>
<path d="M95.4 535.50h5.2 M661.6 535.50h-5.2" stroke-width="1.6"/>
<path d="M95.4 512.20h5.2 M661.6 512.20h-5.2" stroke-width="1.6"/>
<path d="M95.4 488.90h5.2 M661.6 488.90h-5.2" stroke-width="1.6"/>
<path d="M95.4 465.60h10 M661.6 465.60h-10" stroke-width="2.4"/>
<path d="M95.4 442.30h5.2 M661.6 442.30h-5.2" stroke-width="1.6"/>
<path d="M95.4 419.00h5.2 M661.6 419.00h-5.2" stroke-width="1.6"/>
<path d="M95.4 395.70h5.2 M661.6 395.70h-5.2" stroke-width="1.6"/>
<path d="M95.4 372.40h10 M661.6 372.40h-10" stroke-width="2.4"/>
<path d="M95.4 349.10h5.2 M661.6 349.10h-5.2" stroke-width="1.6"/>
<path d="M95.4 325.80h5.2 M661.6 325.80h-5.2" stroke-width="1.6"/>
<path d="M95.4 302.50h5.2 M661.6 302.50h-5.2" stroke-width="1.6"/>
<path d="M95.4 279.20h10 M661.6 279.20h-10" stroke-width="2.4"/>
<rect x="95.4" y="280.2" width="566.2" height="465.2" stroke-width="2.5"/>
</g>
<g font-family="Liberation Sans, sans-serif" font-size="29" fill="#000">
<text x="121.45" y="776.2" text-anchor="middle" textLength="44" lengthAdjust="spacingAndGlyphs">0.0</text>
<text x="224.26" y="776.2" text-anchor="middle" textLength="44" lengthAdjust="spacingAndGlyphs">0.2</text>
<text x="327.07" y="776.2" text-anchor="middle" textLength="44" lengthAdjust="spacingAndGlyphs">0.4</text>
<text x="429.88" y="776.2" text-anchor="middle" textLength="44" lengthAdjust="spacingAndGlyphs">0.6</text>
<text x="532.69" y="776.2" text-anchor="middle" textLength="44" lengthAdjust="spacingAndGlyphs">0.8</text>
<text x="635.50" y="776.2" text-anchor="middle" textLength="44" lengthAdjust="spacingAndGlyphs">1.0</text>
<text x="85" y="755.80" font-size="28.8" text-anchor="end" textLength="17.6" lengthAdjust="spacingAndGlyphs">0</text>
<text x="85" y="662.60" font-size="28.8" text-anchor="end" textLength="17.6" lengthAdjust="spacingAndGlyphs">2</text>
<text x="85" y="569.40" font-size="28.8" text-anchor="end" textLength="17.6" lengthAdjust="spacingAndGlyphs">4</text>
<text x="85" y="476.20" font-size="28.8" text-anchor="end" textLength="17.6" lengthAdjust="spacingAndGlyphs">6</text>
<text x="85" y="383.00" font-size="28.8" text-anchor="end" textLength="17.6" lengthAdjust="spacingAndGlyphs">8</text>
<text x="85" y="289.80" font-size="28.8" text-anchor="end" textLength="36" lengthAdjust="spacingAndGlyphs">10</text>
<text x="363" y="817.2" font-style="italic" font-size="29"><tspan textLength="18.6" lengthAdjust="spacingAndGlyphs">&#x3d5;</tspan><tspan font-size="21" dy="4.8">e</tspan></text>
<text transform="translate(22.5 573.5) rotate(-90)" font-style="italic" font-size="27.2">f</text>
<text transform="translate(27.9 564.6) rotate(-90)" font-size="19" textLength="23.6" lengthAdjust="spacingAndGlyphs">01</text>
<text transform="translate(22.5 528.8) rotate(-90)" font-size="27" textLength="79.5" lengthAdjust="spacingAndGlyphs">(GHz)</text>
</g>
</svg>
</body></html>
